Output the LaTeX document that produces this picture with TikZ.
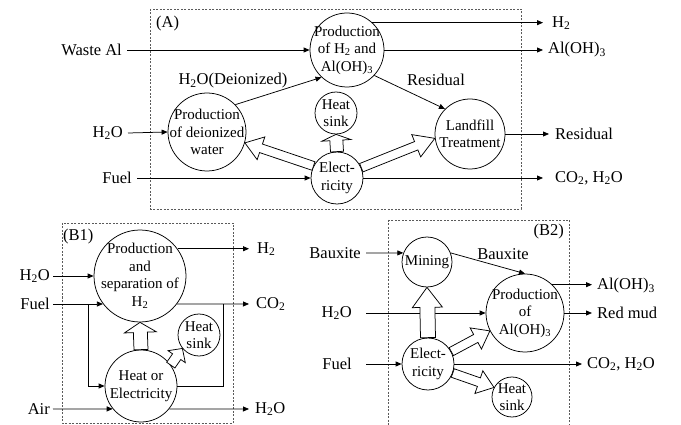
\documentclass[tikz,border=0pt]{standalone}
\usepackage{fontspec}
\setmainfont{Liberation Serif}
\usetikzlibrary{arrows.meta,calc}
\definecolor{panelgrey}{RGB}{90,90,90}
\newcommand{\procfont}{\fontsize{15}{17.5}\selectfont}
\newcommand{\lblfont}{\fontsize{16.5}{18}\selectfont}
\newcommand{\fatarrow}[5]{%
  \draw[fat] let \p1=($(#2)-(#1)$), \n1={atan2(\y1,\x1)}, \n2={veclen(\x1,\y1)} in
    [shift={(#1)}, rotate=\n1]
    (0pt,-#3pt) -- (\n2-#5pt,-#3pt) -- (\n2-#5pt,-#4pt) -- (\n2,0pt)
    -- (\n2-#5pt,#4pt) -- (\n2-#5pt,#3pt) -- (0pt,#3pt) -- cycle;}
\tikzset{
  proc/.style={circle, draw, line width=0.75pt, inner sep=-15pt, align=center, font=\procfont},
  lbl/.style={font=\lblfont, inner xsep=5pt, inner ysep=1pt},
  flow/.style={line width=0.75pt, -{Triangle[length=6pt,width=5pt]}},
  plain/.style={line width=0.75pt},
  fat/.style={line width=0.75pt, draw, fill=white},
  panel/.style={draw=panelgrey, line width=0.75pt, dash pattern=on 2pt off 1.5pt}
}

\begin{document}
\begin{tikzpicture}[x=1pt,y=-1pt]
\useasboundingbox (0,0) rectangle (681,425);

% (A)
\draw[panel] (150,9) rectangle (521,209);
\node[lbl, anchor=west, inner xsep=2pt] (tagA) at (154,24) {(A)};
\node[proc, minimum size=74pt] (prodA) at (347,50) {Production\\of H\textsubscript{2} and\\Al(OH)\textsubscript{3}};
\node[proc, minimum size=42pt] (heatA) at (336,113) {Heat\\sink};
\node[proc, minimum size=52pt] (elecA) at (337,178) {Elect-\\ricity};
\node[proc, minimum size=78pt] (deionA) at (207,132) {Production\\of deionized\\water};
\node[proc, minimum size=70pt] (landA) at (470,134) {Landfill\\Treatment};

\node[lbl, anchor=east] (wasteA) at (127,50) {Waste Al};
\node[lbl, anchor=east] (waterA) at (128,133) {H\textsubscript{2}O};
\node[lbl, anchor=east] (fuelA) at (137,178) {Fuel};
\node[lbl, anchor=west, inner xsep=9pt] (h2A) at (543,23) {H\textsubscript{2}};
\node[lbl, anchor=west] (alohA) at (543,50) {Al(OH)\textsubscript{3}};
\node[lbl, anchor=west, inner xsep=6pt] (resA) at (549,134) {Residual};
\node[lbl, anchor=west, inner xsep=12pt] (co2A) at (543,178) {CO\textsubscript{2}, H\textsubscript{2}O};
\node[lbl] (deionTxt) at (233,81) {H\textsubscript{2}O(Deionized)};
\node[lbl] (resTxt) at (436,80) {Residual};

\draw[flow] (wasteA.east) -- (prodA.west);
\draw[flow] (waterA.east) -- (deionA.west);
\draw[flow] (fuelA.east) -- (elecA.west);
\draw[flow] (prodA.47) -- (prodA.47 -| h2A.west);
\draw[flow] (prodA.east) -- (alohA.west);
\draw[flow] (deionA.44) -- (prodA.227);
\draw[flow] (prodA.-43) -- (landA.135);
\draw[flow] (landA.east) -- (resA.west);
\draw[flow] (elecA.east) -- (co2A.west);
\fatarrow{elecA.153}{deionA.-16}{4.5}{12}{17}
\fatarrow{elecA.90}{heatA.-90}{6.5}{14.5}{6}
\fatarrow{elecA.23}{landA.187}{4.5}{12}{20}

% (B1)
\draw[panel] (62,223) rectangle (233,423);
\node[lbl, anchor=west, inner xsep=1pt] (tagB1) at (62,237) {(B1)};
\node[proc, minimum size=92pt] (prodB1) at (140,276) {Production\\and\\separation of\\H\textsubscript{2}};
\node[proc, minimum size=42pt] (heatB1) at (199,335) {Heat\\sink};
\node[proc, minimum size=72pt] (hoeB1) at (141,386) {Heat or\\Electricity};

\node[lbl, anchor=east, inner xsep=3pt] (waterB1) at (53,276) {H\textsubscript{2}O};
\node[lbl, anchor=east, inner xsep=3pt] (fuelB1) at (53,304) {Fuel};
\node[lbl, anchor=east, inner xsep=3pt] (airB1) at (53,409) {Air};
\node[lbl, anchor=west, inner xsep=8pt] (h2B1) at (249,249) {H\textsubscript{2}};
\node[lbl, anchor=west, inner xsep=7pt] (co2B1) at (249,304) {CO\textsubscript{2}};
\node[lbl, anchor=west, inner xsep=6pt] (outB1) at (249,409) {H\textsubscript{2}O};
\coordinate (splitB1) at (88,304);
\coordinate (joinB1) at (223,304);

\draw[flow] (waterB1.east) -- (prodB1.west);
\draw[plain] (fuelB1.east) -- (splitB1);
\draw[flow] (splitB1) -- (splitB1 -| prodB1.217.5);
\draw[flow] (splitB1) |- (hoeB1.west);
\draw[flow] (prodB1.36) -- (prodB1.36 -| h2B1.west);
\draw[flow] (prodB1.-37.5) -- (co2B1.west);
\draw[plain] (hoeB1.east) -| (joinB1);
\draw[flow] (airB1.east) -- (hoeB1.219.7);
\draw[flow] (hoeB1.-39.7) -- (outB1.west);
\fatarrow{hoeB1.90}{prodB1.-90}{7}{16}{10}
\fatarrow{hoeB1.35}{heatB1.219}{5}{10.5}{10}

% (B2)
\draw[panel] (388,220) rectangle (569,430);
\node[lbl, anchor=east, inner xsep=2pt] (tagB2) at (566,232) {(B2)};
\node[proc, minimum size=50pt] (mineB2) at (427,262) {Mining};
\node[proc, minimum size=78pt] (prodB2) at (525,313) {Production\\of\\Al(OH)\textsubscript{3}};
\node[proc, minimum size=52pt] (elecB2) at (428,364) {Elect-\\ricity};
\node[proc, minimum size=40pt] (heatB2) at (512,397) {Heat\\sink};

\node[lbl, anchor=east] (bauxB2) at (366,253) {Bauxite};
\node[lbl, anchor=east, inner xsep=14pt] (waterB2) at (366,313) {H\textsubscript{2}O};
\node[lbl, anchor=east, inner xsep=14pt] (fuelB2) at (366,364) {Fuel};
\node[lbl, anchor=west] (alohB2) at (592,286) {Al(OH)\textsubscript{3}};
\node[lbl, anchor=west] (mudB2) at (592,313) {Red mud};
\node[lbl, anchor=west] (co2B2) at (582,364) {CO\textsubscript{2}, H\textsubscript{2}O};
\node[lbl] (bauxTxt) at (503,254) {Bauxite};

\draw[flow] (bauxB2.east) -- (mineB2.159);
\draw[flow] (mineB2.21) -- (prodB2.90);
\draw[flow] (waterB2.east) -- (prodB2.west);
\draw[flow] (fuelB2.east) -- (elecB2.west);
\draw[flow] (elecB2.east) -- (co2B2.west);
\draw[flow] (prodB2.46) -- (prodB2.46 -| alohB2.west);
\draw[flow] (prodB2.east) -- (mudB2.west);
\fatarrow{elecB2.90}{mineB2.-90}{7.5}{15}{20}
\fatarrow{elecB2.28}{prodB2.207}{4.5}{12}{16}
\fatarrow{elecB2.-20}{heatB2.152}{4.5}{12}{16}
\end{tikzpicture}
\end{document}
